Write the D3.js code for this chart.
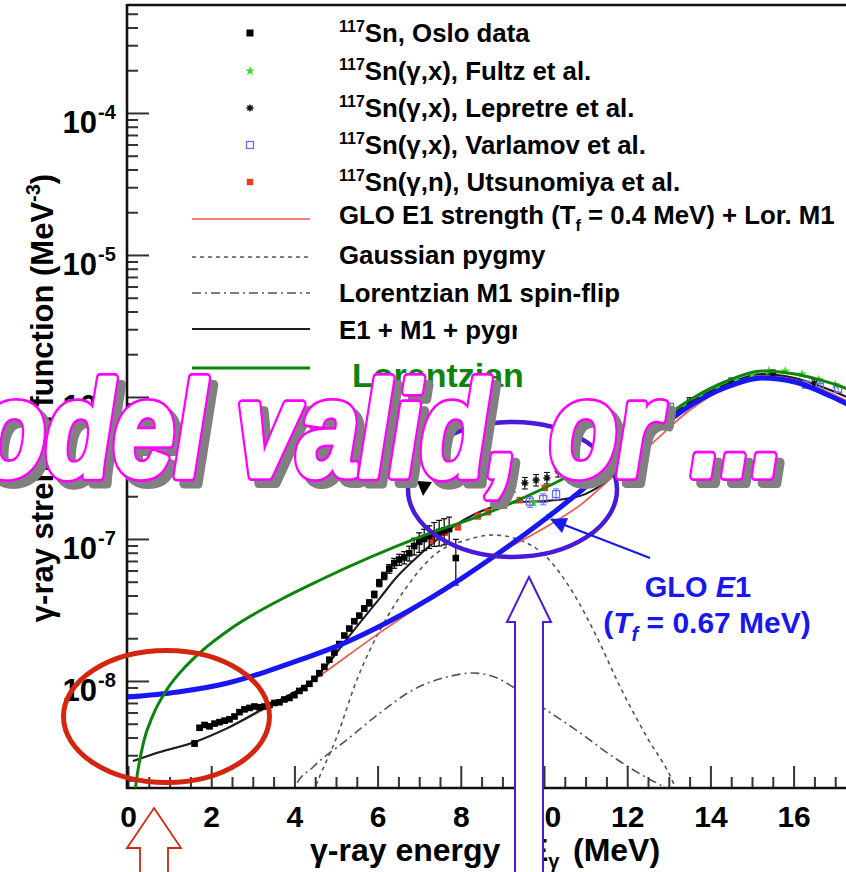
<!DOCTYPE html>
<html>
<head>
<meta charset="utf-8">
<script src="https://cdn.jsdelivr.net/npm/d3@7/dist/d3.min.js"></script>
<style>
  html, body { margin: 0; padding: 0; background: #fff; }
  svg { display: block; font-family: "Liberation Sans", Arial, Helvetica, sans-serif; font-weight: bold; }
</style>
</head>
<body>
<svg id="chart" width="846" height="872"></svg>
<script>
// ---------- 117Sn gamma-ray strength function ----------

// Oslo data (E in MeV, f in MeV^-3, statistical error)
const osloE = [1.60,1.72,1.84,1.96,2.08,2.20,2.32,2.44,2.56,2.68,2.80,2.92,3.04,3.16,3.28,3.40,3.52,3.64,3.76,3.88,
               4.00,4.12,4.24,4.36,4.48,4.60,4.72,4.84,4.96,5.08,5.20,5.32,5.44,5.56,5.68,5.80,5.92,6.04,6.16,6.28,
               6.40,6.52,6.64,6.76,6.88,7.00,7.12,7.24,7.36,7.48,7.60,7.72,7.88];
const osloF = [3.63e-9,4.68e-9,4.90e-9,4.79e-9,5.01e-9,5.13e-9,5.25e-9,5.37e-9,5.62e-9,6.03e-9,6.31e-9,6.46e-9,6.61e-9,6.53e-9,6.61e-9,6.76e-9,7.00e-9,7.08e-9,7.41e-9,7.59e-9,
               7.94e-9,8.51e-9,8.91e-9,9.55e-9,1.035e-8,1.135e-8,1.259e-8,1.413e-8,1.585e-8,1.82e-8,2.09e-8,2.34e-8,2.63e-8,2.88e-8,3.24e-8,3.55e-8,4.07e-8,4.90e-8,5.50e-8,6.17e-8,
               6.76e-8,7.16e-8,7.41e-8,7.94e-8,8.91e-8,9.55e-8,1.00e-7,1.047e-7,1.096e-7,1.122e-7,1.148e-7,1.175e-7,7.34e-8];
const osloErr = [1.5e-10,1.5e-10,1.5e-10,1.5e-10,1.5e-10,1.5e-10,1.6e-10,1.6e-10,1.7e-10,1.8e-10,1.9e-10,1.9e-10,2.0e-10,2.0e-10,2.0e-10,2.0e-10,2.1e-10,2.1e-10,2.2e-10,2.3e-10,
                 2.4e-10,2.6e-10,2.7e-10,2.9e-10,3.1e-10,3.4e-10,3.8e-10,4.2e-10,4.8e-10,5.5e-10,6.3e-10,7.0e-10,7.9e-10,1.2e-9,1.5e-9,1.8e-9,2.2e-9,2.9e-9,3.3e-9,4.3e-9,
                 5.4e-9,6.4e-9,7.4e-9,9.5e-9,1.2e-8,1.5e-8,1.7e-8,1.9e-8,2.1e-8,2.3e-8,2.4e-8,2.5e-8,2.6e-8];

// 117Sn(γ,x), Fultz et al.
const fultzE = [9.75,10.15,12.2,12.6,13.0,13.4,13.8,14.2,14.6,15.0,15.4,15.8,16.2,16.6,17.0,17.4];
const fultzF = [1.80e-7,1.46e-7,4.74e-7,5.86e-7,7.11e-7,8.51e-7,1.0e-6,1.14e-6,1.30e-6,1.43e-6,1.52e-6,1.52e-6,1.45e-6,1.32e-6,1.22e-6,1.10e-6];

// 117Sn(γ,x), Lepretre et al.
const lepE = [9.25,9.54,9.81,10.07,10.34,10.63,12.5,13.5,14.5,15.5,16.5,17.5];
const lepF = [2.36e-7,2.48e-7,2.60e-7,2.69e-7,3.01e-7,3.37e-7,5.6e-7,9.3e-7,1.28e-6,1.46e-6,1.25e-6,9.6e-7];
const lepErr = [2.2e-8,2.3e-8,2.4e-8,2.5e-8,2.8e-8,3.1e-8,4e-8,6e-8,8e-8,9e-8,8e-8,7e-8];

// 117Sn(γ,x), Varlamov et al.
const varE = [9.66,9.98,10.29,13.03,16.3,16.63,17.07];
const varF = [1.83e-7,1.91e-7,2.07e-7,8.51e-7,1.22e-6,1.18e-6,1.14e-6];
const varErr = [1.6e-8,1.7e-8,1.8e-8,5e-8,6e-8,6e-8,6e-8];

// 117Sn(γ,n), Utsunomiya et al.
const utsE = [7.31,7.62,7.93,8.41,8.65,9.04,9.42,10.02];
const utsF = [9.84e-8,1.12e-7,1.216e-7,1.45e-7,1.55e-7,1.73e-7,1.88e-7,2.29e-7];
const utsErr = [5e-9,6e-9,6e-9,7e-9,7e-9,8e-9,8e-9,1e-8];

// GLO E1 strength (Tf = 0.4 MeV) + Lorentzian M1
const gloE = [0.12,0.77,1.61,2.40,3.37,4.16,4.57,6.15,7.50,8.77,10.22,10.87,11.83,12.55,13.51,14.40,15.24,16.03,16.88,17.84];
const gloF = [2.73e-9,3.16e-9,3.72e-9,4.67e-9,6.56e-9,8.79e-9,1.067e-8,2.29e-8,4.20e-8,7.46e-8,1.30e-7,1.73e-7,3.06e-7,4.59e-7,8.09e-7,1.175e-6,1.406e-6,1.318e-6,1.067e-6,7.71e-7];

// Gaussian pygmy
const pygE = [4.38,4.54,5.02,5.50,6.06,6.70,7.42,8.14,8.78,9.42,10.06,10.70,11.27,11.83,12.47,13.11,13.27];
const pygF = [1.45e-9,1.91e-9,4.04e-9,1.016e-8,2.29e-8,4.59e-8,7.96e-8,9.84e-8,1.067e-7,9.84e-8,7.46e-8,4.17e-8,2.04e-8,9.08e-9,4.04e-9,1.91e-9,1.45e-9];

// Lorentzian M1 spin-flip
const m1E = [3.89,4.01,4.45,5.26,6.06,6.85,7.67,8.29,8.87,9.25,9.98,10.87,11.66,12.48,12.86,13.15];
const m1F = [1.45e-9,1.79e-9,2.48e-9,3.85e-9,5.96e-9,8.65e-9,1.067e-8,1.138e-8,1.05e-8,9.08e-9,6.46e-9,4.31e-9,2.92e-9,2.07e-9,1.79e-9,1.45e-9];

// E1 + M1 + pygmy
const sumE = [0.12,0.77,1.61,2.40,3.37,4.01,4.45,4.86,5.24,5.65,6.06,6.44,6.85,7.33,7.81,8.34,8.87,9.42,10.02,10.50,10.99,11.49,12.0,12.79,13.58,14.40,15.24,16.03,16.88,17.84];
const sumF = [2.73e-9,3.16e-9,3.72e-9,4.67e-9,6.67e-9,8.37e-9,1.016e-8,1.38e-8,1.94e-8,2.74e-8,3.85e-8,5.31e-8,7.00e-8,9.37e-8,1.216e-7,1.50e-7,1.71e-7,1.82e-7,1.85e-7,1.91e-7,2.07e-7,2.56e-7,3.91e-7,6.46e-7,9.37e-7,1.235e-6,1.452e-6,1.36e-6,1.12e-6,8.37e-7];

// GLO E1 with Tf = 0.67 MeV
const glo67E = [0,1.20,2.40,3.29,4.13,5.10,6.25,7.26,8.05,8.87,10.07,10.87,12.0,12.79,13.58,14.40,15.24,16.03,16.88,17.84];
const glo67F = [7.71e-9,8.37e-9,9.68e-9,1.156e-8,1.406e-8,1.795e-8,2.60e-8,3.82e-8,5.35e-8,7.80e-8,1.41e-7,2.16e-7,4.03e-7,6.10e-7,8.93e-7,1.175e-6,1.36e-6,1.275e-6,1.016e-6,7.35e-7];

// Standard Lorentzian E1
const lorE = [0.144,0.19,0.37,0.61,0.93,1.41,1.73,2.53,3.65,4.62,7.02,8.63,10.55,12.0,12.79,13.58,14.40,15.24,16.03,16.88,17.84];
const lorF = [1.42e-9,1.87e-9,3.66e-9,5.82e-9,8.65e-9,1.288e-8,1.585e-8,2.40e-8,3.72e-8,5.14e-8,1.033e-7,1.52e-7,2.73e-7,4.74e-7,6.89e-7,9.84e-7,1.296e-6,1.524e-6,1.452e-6,1.256e-6,9.84e-7];

// Axis ticks
const xMajorTicks = [0,2,4,6,8,10,12,14,16,18,20];
const yDecades = [1e-8,1e-7,1e-6,1e-5,1e-4];
const yDecadeExp = ["-8","-7","-6","-5","-4"];

// ---------- drawing ----------
const svg = d3.select("#chart");
svg.append("rect").attr("width", 846).attr("height", 872).attr("fill", "#fff");

const x = d3.scaleLinear().domain([0, 20]).range([128, 960]);
const y = d3.scaleLog().domain([1.763e-9, 5.76e-4]).range([788, 5]);

const zip = (a, b, c) => a.map((v, i) => c ? [v, b[i], c[i]] : [v, b[i]]);
const line = d3.line().x(d => x(d[0])).y(d => y(d[1])).curve(d3.curveMonotoneX);

svg.append("defs").append("clipPath").attr("id", "plotClip")
  .append("rect").attr("x", 128).attr("y", 5).attr("width", 832).attr("height", 783);

const plot = svg.append("g").attr("clip-path", "url(#plotClip)");

function curve(g, E, F, stroke, width, dash) {
  return g.append("path").datum(zip(E, F)).attr("d", line)
    .attr("fill", "none").attr("stroke", stroke).attr("stroke-width", width)
    .attr("stroke-dasharray", dash || null).attr("stroke-linejoin", "round");
}

// model components
curve(plot, pygE, pygF, "#555", 1.6, "4,4");
curve(plot, m1E, m1F, "#555", 1.6, "9,4,2,4");
curve(plot, gloE, gloF, "#f0584c", 1.7);
curve(plot, sumE, sumF, "#1e1e1e", 2.1);

// error bars with caps
function errorBars(g, data, color, w) {
  const eb = g.append("g").attr("stroke", color).attr("stroke-width", w);
  eb.selectAll("line.v").data(data).join("line").attr("class", "v")
    .attr("x1", d => x(d[0])).attr("x2", d => x(d[0]))
    .attr("y1", d => y(d[1] + d[2])).attr("y2", d => y(Math.max(d[1] - d[2], 1e-12)));
  ["p", "m"].forEach(s => {
    eb.selectAll("line.c" + s).data(data).join("line").attr("class", "c" + s)
      .attr("x1", d => x(d[0]) - 3).attr("x2", d => x(d[0]) + 3)
      .attr("y1", d => y(s === "p" ? d[1] + d[2] : d[1] - d[2]))
      .attr("y2", d => y(s === "p" ? d[1] + d[2] : d[1] - d[2]));
  });
}

const starPath = d3.symbol(d3.symbolStar, 30)();
const asteriskPath = "M-3.6,0H3.6M0,-3.6V3.6M-2.6,-2.6L2.6,2.6M-2.6,2.6L2.6,-2.6";

// Fultz
plot.append("g").selectAll("path").data(zip(fultzE, fultzF)).join("path")
  .attr("transform", d => `translate(${x(d[0])},${y(d[1])})`).attr("d", starPath).attr("fill", "#2fe02f");
// Lepretre
errorBars(plot, zip(lepE, lepF, lepErr), "#111", 1.1);
plot.append("g").selectAll("path").data(zip(lepE, lepF)).join("path")
  .attr("transform", d => `translate(${x(d[0])},${y(d[1])})`).attr("d", asteriskPath)
  .attr("stroke", "#111").attr("stroke-width", 1.4).attr("fill", "none");
// Varlamov
errorBars(plot, zip(varE, varF, varErr), "#7070ff", 1.1);
plot.append("g").selectAll("rect").data(zip(varE, varF)).join("rect")
  .attr("x", d => x(d[0]) - 3.5).attr("y", d => y(d[1]) - 3.5).attr("width", 7).attr("height", 7)
  .attr("fill", "none").attr("stroke", "#6a6aff").attr("stroke-width", 1.3);
// Utsunomiya
errorBars(plot, zip(utsE, utsF, utsErr), "#ee3a1c", 1.1);
plot.append("g").selectAll("rect").data(zip(utsE, utsF)).join("rect")
  .attr("x", d => x(d[0]) - 3.2).attr("y", d => y(d[1]) - 3.2).attr("width", 6.4).attr("height", 6.4)
  .attr("fill", "#ee3a1c");
// Oslo
errorBars(plot, zip(osloE, osloF, osloErr), "#000", 1.2);
plot.append("g").selectAll("rect").data(zip(osloE, osloF)).join("rect")
  .attr("x", d => x(d[0]) - 3.3).attr("y", d => y(d[1]) - 3.3).attr("width", 6.6).attr("height", 6.6)
  .attr("fill", "#000");

// ---------- axes ----------
const tickStyle = g => {
  g.select(".domain").remove();
  g.selectAll(".tick line").attr("stroke", "#333").attr("stroke-width", 2);
};
const xMinor = d3.range(0, 20.01, 0.5).filter(v => v % 2 !== 0);
svg.append("g").attr("transform", "translate(0,788)")
  .call(d3.axisBottom(x).tickValues(xMinor).tickSize(-11).tickFormat(""))
  .call(tickStyle);
const xAxis = svg.append("g").attr("transform", "translate(0,788)")
  .call(d3.axisBottom(x).tickValues(xMajorTicks).tickSize(-22).tickPadding(18).tickFormat(d3.format("d")))
  .call(tickStyle);
xAxis.attr("font-size", null).attr("font-family", null);
xAxis.selectAll("text").attr("font-size", 30).attr("font-weight", "bold").attr("fill", "#000");

const yMinor = [];
for (let e = -9; e <= -4; e++) for (let k = 2; k <= 9; k++) {
  const v = k * Math.pow(10, e);
  if (v > y.domain()[0] && v < y.domain()[1]) yMinor.push(v);
}
svg.append("g").attr("transform", "translate(127,0)")
  .call(d3.axisLeft(y).tickValues(yMinor).tickSize(-11).tickFormat(""))
  .call(tickStyle);
svg.append("g").attr("transform", "translate(127,0)")
  .call(d3.axisLeft(y).tickValues(yDecades).tickSize(-22).tickFormat(""))
  .call(tickStyle);

// decade labels "10^-n"
const yLab = svg.append("g");
yLab.selectAll("text.base").data(yDecades).join("text").attr("class", "base")
  .attr("x", 97).attr("y", d => y(d) + 20).attr("text-anchor", "end").attr("font-size", 31).text("10");
yLab.selectAll("text.exp").data(yDecades).join("text").attr("class", "exp")
  .attr("x", 98).attr("y", d => y(d) + 6).attr("font-size", 20).text((d, i) => yDecadeExp[i]);

// frame
const frame = svg.append("g").attr("stroke", "#111").attr("stroke-width", 2.6).attr("fill", "none");
frame.append("path").attr("d", "M127,5H846");
frame.append("path").attr("d", "M127,4V789");
frame.append("path").attr("d", "M126,788H846");

// axis titles
const yt = svg.append("text").attr("transform", "translate(53,398) rotate(-90)")
  .attr("text-anchor", "middle").attr("font-size", 31);
yt.append("tspan").text("γ-ray strength function (MeV");
yt.append("tspan").attr("font-size", 20).attr("dy", -13).text("-3");
yt.append("tspan").attr("dy", 13).text(")");

const xt = svg.append("text").attr("y", 861).attr("font-size", 32);
xt.append("tspan").attr("x", 310).text("γ-ray energy");
xt.append("tspan").attr("x", 527).text("E");
xt.append("tspan").attr("font-size", 20).attr("dy", 7).text("γ");
xt.append("tspan").attr("x", 573).attr("dy", -7).text("(MeV)");

// ---------- legend ----------
const legend = svg.append("g").attr("font-size", 25.8);
const legX = 250, textX = 339;
const markerRows = [
  { y: 33, label: "Sn, Oslo data" },
  { y: 71, label: "Sn(γ,x), Fultz et al." },
  { y: 108, label: "Sn(γ,x), Lepretre et al." },
  { y: 145, label: "Sn(γ,x), Varlamov et al." },
  { y: 182, label: "Sn(γ,n), Utsunomiya et al." }
];
markerRows.forEach(r => {
  const t = legend.append("text").attr("x", textX).attr("y", r.y + 9);
  t.append("tspan").attr("font-size", 16).attr("dy", -10).text("117");
  t.append("tspan").attr("dy", 10).text(r.label);
});
legend.append("rect").attr("x", legX - 3.5).attr("y", 33 - 3.5).attr("width", 7).attr("height", 7).attr("fill", "#000");
legend.append("path").attr("transform", `translate(${legX},71)`).attr("d", starPath).attr("fill", "#2fe02f");
legend.append("path").attr("transform", `translate(${legX},108)`).attr("d", asteriskPath).attr("stroke", "#111").attr("stroke-width", 1.4);
legend.append("rect").attr("x", legX - 3.5).attr("y", 145 - 3.5).attr("width", 7).attr("height", 7).attr("fill", "none").attr("stroke", "#6a6aff").attr("stroke-width", 1.3);
legend.append("rect").attr("x", legX - 3.2).attr("y", 182 - 3.2).attr("width", 6.4).attr("height", 6.4).attr("fill", "#ee3a1c");

const lineRows = [
  { y: 219, stroke: "#f0584c", w: 1.7, dash: null },
  { y: 257, stroke: "#555", w: 1.6, dash: "4,4" },
  { y: 293, stroke: "#555", w: 1.6, dash: "9,4,2,4" },
  { y: 329, stroke: "#1e1e1e", w: 2.1, dash: null }
];
lineRows.forEach(r => {
  legend.append("line").attr("x1", 192).attr("x2", 310).attr("y1", r.y).attr("y2", r.y)
    .attr("stroke", r.stroke).attr("stroke-width", r.w).attr("stroke-dasharray", r.dash);
});
const gl = legend.append("text").attr("x", textX).attr("y", 224);
gl.append("tspan").text("GLO E1 strength (T");
gl.append("tspan").attr("font-size", 16).attr("dy", 7).text("f");
gl.append("tspan").attr("dy", -7).text(" = 0.4 MeV) + Lor. M1");
legend.append("text").attr("x", textX).attr("y", 264).text("Gaussian pygmy");
legend.append("text").attr("x", textX).attr("y", 302).text("Lorentzian M1 spin-flip");
legend.append("text").attr("x", textX).attr("y", 339).text("E1 + M1 + pygmy");

// ---------- annotations ----------
const ann = svg.append("g");
// panel that hides the end of the last legend entry
ann.append("rect").attr("x", 517).attr("y", 312).attr("width", 110).attr("height", 40).attr("fill", "#fff");

// alternative E1 models
const over = ann.append("g").attr("clip-path", "url(#plotClip)");
curve(over, glo67E, glo67F, "#1717f5", 5);
curve(over, lorE, lorF, "#0d840d", 3);
ann.append("line").attr("x1", 192).attr("x2", 310).attr("y1", 368).attr("y2", 368)
  .attr("stroke", "#0d840d").attr("stroke-width", 3);
ann.append("text").attr("x", 352).attr("y", 387).attr("font-size", 34).attr("fill", "#0d840d").text("Lorentzian");

// highlighted regions
ann.append("ellipse").attr("cx", 166.5).attr("cy", 716.5).attr("rx", 103).attr("ry", 66)
  .attr("fill", "none").attr("stroke", "#d4260f").attr("stroke-width", 5);
ann.append("ellipse").attr("cx", 512.5).attr("cy", 489.5).attr("rx", 104.5).attr("ry", 67.5)
  .attr("fill", "none").attr("stroke", "#4a1ad6").attr("stroke-width", 4.5);
ann.append("path").attr("d", "M417,481L432,482L423,496Z").attr("fill", "#000");

// pointer to the Tf = 0.67 MeV curve
ann.append("line").attr("x1", 650).attr("y1", 558).attr("x2", 562).attr("y2", 524)
  .attr("stroke", "#1717f0").attr("stroke-width", 2);
ann.append("path").attr("d", "M550,519L568,518L562,533Z").attr("fill", "#1717f0");
const g1 = ann.append("text").attr("x", 698).attr("y", 597).attr("text-anchor", "middle")
  .attr("font-size", 29).attr("fill", "#1717ee");
g1.append("tspan").text("GLO ");
g1.append("tspan").attr("font-style", "italic").text("E");
g1.append("tspan").text("1");
const g2 = ann.append("text").attr("x", 707).attr("y", 633).attr("text-anchor", "middle")
  .attr("font-size", 30).attr("fill", "#1717ee");
g2.append("tspan").text("(");
g2.append("tspan").attr("font-style", "italic").text("T");
g2.append("tspan").attr("font-style", "italic").attr("font-size", 20).attr("dy", 8).text("f");
g2.append("tspan").attr("dy", -8).text(" = 0.67 MeV)");

// block arrows
ann.append("path").attr("d", "M154,808L181,848L168,848L168,880L140,880L140,848L127,848Z")
  .attr("fill", "#fff").attr("stroke", "#d4260f").attr("stroke-width", 1.8);
ann.append("path").attr("d", "M529,577L551,622L543,622L543,880L515,880L515,622L507,622Z")
  .attr("fill", "#fff").attr("stroke", "#4a1ad6").attr("stroke-width", 2);

// headline: grey drop shadow, magenta outline, white face
const head = ann.append("g").attr("font-size", 136).attr("font-style", "italic").attr("font-weight", "bold")
  .attr("stroke-linejoin", "round");
const headline = "odel valid, or ...";
const headText = (dx, dy) => head.append("text").attr("x", -22 + dx).attr("y", 476 + dy)
  .attr("textLength", 805).attr("lengthAdjust", "spacingAndGlyphs").text(headline);
headText(7, 7).attr("fill", "#808080").attr("stroke", "#808080").attr("stroke-width", 10);
headText(0, 0).attr("fill", "#ff00ff").attr("stroke", "#ff00ff").attr("stroke-width", 10);
headText(0, 0).attr("fill", "#fff").attr("stroke", "#fff").attr("stroke-width", 4.5);
</script>
</body>
</html>
